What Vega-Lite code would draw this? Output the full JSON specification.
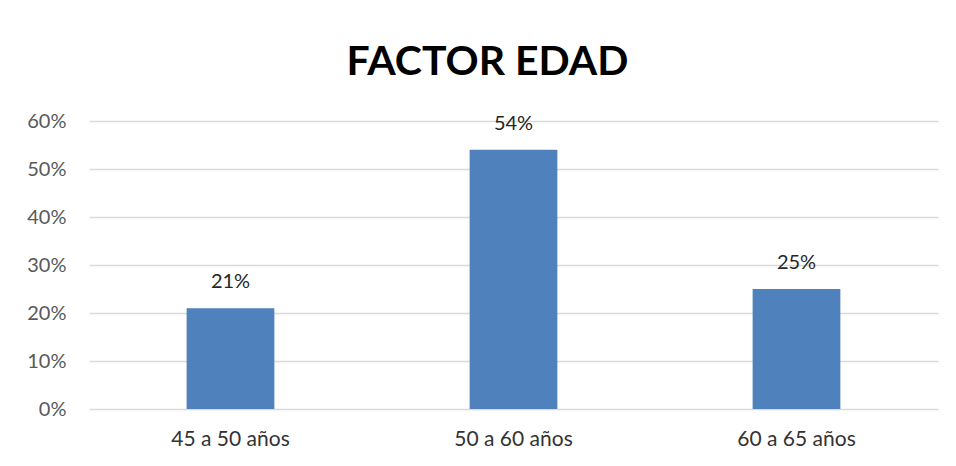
{
  "$schema": "https://vega.github.io/schema/vega-lite/v6.json",
  "width": 849,
  "height": 288,
  "autosize": {"type": "none"},
  "padding": {"left": 89, "top": 121, "right": 18, "bottom": 57},
  "background": "white",
  "title": {
    "text": "FACTOR EDAD",
    "font": "Lato",
    "fontSize": 41,
    "fontWeight": "bold",
    "color": "#000000",
    "anchor": "middle",
    "dx": -26,
    "offset": -5,
    "baseline": "alphabetic"
  },
  "data": {
    "values": [
      {"edad": "45 a 50 años", "pct": 0.21},
      {"edad": "50 a 60 años", "pct": 0.54},
      {"edad": "60 a 65 años", "pct": 0.25}
    ]
  },
  "encoding": {
    "x": {
      "field": "edad",
      "type": "nominal",
      "sort": null,
      "scale": {"paddingInner": 0.69, "paddingOuter": 0.345},
      "axis": {
        "title": null,
        "labelAngle": 0,
        "domain": false,
        "ticks": false,
        "labelFont": "Lato",
        "labelFontSize": 21,
        "labelColor": "#333333",
        "labelPadding": 19
      }
    },
    "y": {
      "field": "pct",
      "type": "quantitative",
      "scale": {"domain": [0, 0.6]},
      "axis": {
        "title": null,
        "format": ".0%",
        "values": [0, 0.1, 0.2, 0.3, 0.4, 0.5, 0.6],
        "labelOverlap": false,
        "domain": false,
        "ticks": false,
        "grid": true,
        "gridColor": "#D9D9D9",
        "gridWidth": 1.5,
        "labelFont": "Lato",
        "labelFontSize": 20,
        "labelColor": "#595959",
        "labelPadding": 23
      }
    }
  },
  "layer": [
    {"mark": {"type": "bar", "color": "#4F81BD"}},
    {
      "mark": {"type": "text", "font": "Lato", "fontSize": 20, "color": "#262626", "dy": -20, "baseline": "alphabetic"},
      "encoding": {"text": {"field": "pct", "type": "quantitative", "format": ".0%"}}
    }
  ],
  "config": {"view": {"stroke": null}}
}
